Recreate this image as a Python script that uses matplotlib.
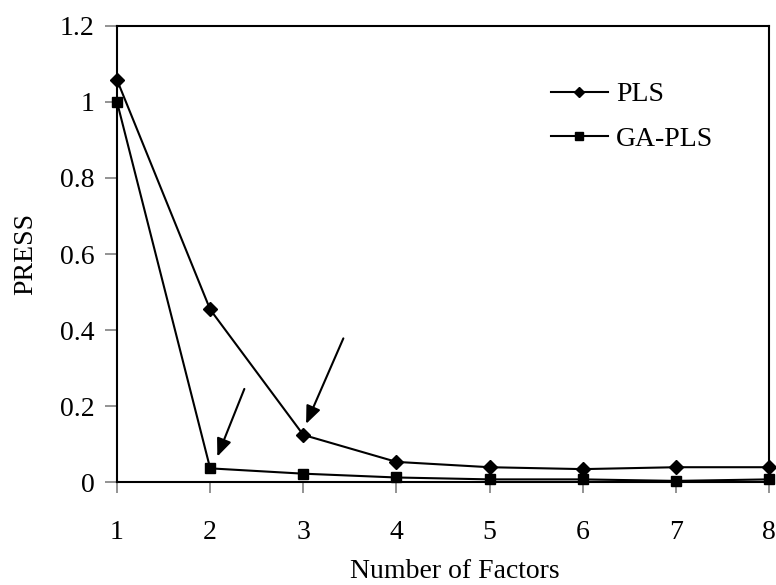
import matplotlib
matplotlib.use('Agg')
import matplotlib.pyplot as plt

plt.rcParams['font.family'] = ['Liberation Serif', 'DejaVu Serif']

factors = [1, 2, 3, 4, 5, 6, 7, 8]
pls = [1.058, 0.454, 0.124, 0.053, 0.039, 0.034, 0.039, 0.039]
ga_pls = [1.0, 0.036, 0.022, 0.012, 0.007, 0.007, 0.003, 0.007]

fig = plt.figure(figsize=(7.76, 5.85), dpi=100)
ax = fig.add_axes([0.1508, 0.176, 0.8402, 0.7796])

ax.plot(factors, pls, color='black', lw=1.5, marker='D', ms=7.5, label='PLS', clip_on=False, zorder=3)
ax.plot(factors, ga_pls, color='black', lw=1.5, marker='s', ms=7.5, label='GA-PLS', clip_on=False, zorder=3)

# arrows pointing at the chosen number of factors
ax.annotate('', xy=(2.077, 0.067), xytext=(2.367, 0.245),
            arrowprops=dict(arrowstyle='-|>,head_length=0.6,head_width=0.25', color='black', lw=1.5,
                            mutation_scale=18, shrinkA=0, shrinkB=0))
ax.annotate('', xy=(3.03, 0.153), xytext=(3.43, 0.378),
            arrowprops=dict(arrowstyle='-|>,head_length=0.6,head_width=0.25', color='black', lw=1.5,
                            mutation_scale=18, shrinkA=0, shrinkB=0))

ax.set_xlim(1, 8)
ax.set_ylim(0, 1.2)
ax.set_xticks(factors)
ax.set_yticks([0, 0.2, 0.4, 0.6, 0.8, 1.0, 1.2])
ax.set_yticklabels(['0', '0.2', '0.4', '0.6', '0.8', '1', '1.2'])

for side in ['left', 'right', 'top', 'bottom']:
    ax.spines[side].set_color('black')
    ax.spines[side].set_linewidth(1.5)

ax.tick_params(axis='x', direction='out', length=8, width=1.2, color='gray', pad=19, labelsize=20)
ax.tick_params(axis='y', direction='out', length=9, width=1.2, color='gray', pad=7, labelsize=20)

ax.set_xlabel('Number of Factors', fontsize=20)
ax.xaxis.set_label_coords(0.518, -0.168)
ax.set_ylabel('PRESS', fontsize=20, labelpad=16)

leg = ax.legend(loc='upper left', bbox_to_anchor=(0.627, 0.932), frameon=False, fontsize=20,
                handlelength=2.05, handletextpad=0.3, labelspacing=0.68, markerscale=0.7)

fig.savefig('out.png', dpi=100)
